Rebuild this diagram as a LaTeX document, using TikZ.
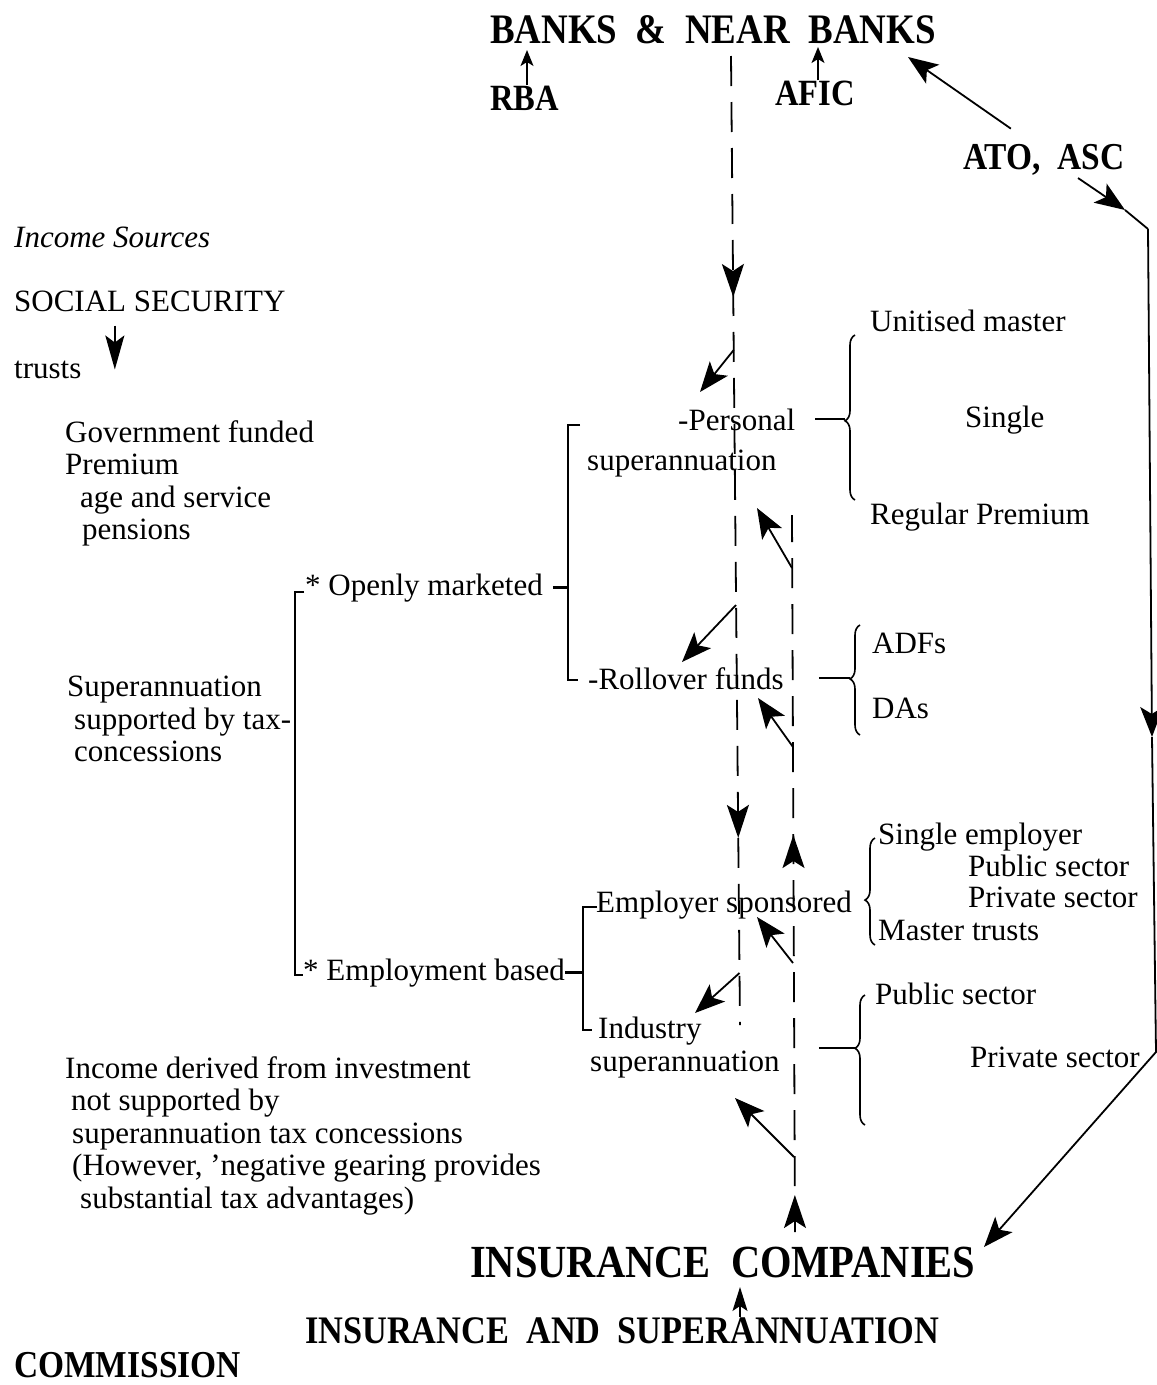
\documentclass[tikz,border=0pt]{standalone}
\usepackage{fontspec}
\setmainfont{Liberation Serif}
\newfontfamily\hdfont[FakeStretch=0.88]{Liberation Serif}
\usetikzlibrary{arrows.meta,decorations.pathreplacing,decorations.markings}

\begin{document}
\begin{tikzpicture}[x=1pt,y=-1pt,
    txt/.style={font=\fontsize{31}{32.5}\selectfont, inner sep=0pt, anchor=base west},
    para/.style={font=\fontsize{31}{32.5}\selectfont, inner sep=0pt, anchor=north west, align=left},
    hd/.style={font=\hdfont\bfseries\fontsize{#1}{#1}\selectfont, inner sep=0pt, anchor=base west},
    arr/.style={-{Stealth[length=30pt,width=23pt,inset=7pt]}, line width=1.8pt},
    sarr/.style={-{Stealth[length=16pt,width=13pt,inset=4pt]}, line width=1.4pt},
    dashline/.style={line width=1.8pt, dash pattern=on 30pt off 16pt},
    bracket/.style={line width=2.4pt},
    lnk/.style={line width=2pt},
    brc/.style={decorate, decoration={brace, amplitude=10pt, aspect=#1}, line width=1.6pt},
]
\useasboundingbox (0,0) rectangle (1157,1385);

% regulators and institutions
\node[hd=42] (banks) at (490,43) {BANKS\ \ \&\ \ NEAR\ \ BANKS};
\node[hd=37] (rba) at (490,110) {RBA};
\node[hd=37] (afic) at (775,105) {AFIC};
\node[hd=38] (ato) at (963,169) {ATO,\ \ ASC};
\node[hd=46] (insco) at (470,1277) {INSURANCE\ \ COMPANIES};
\node[hd=39] (isc) at (305,1343) {INSURANCE\ \ AND\ \ SUPERANNUATION};
\node[hd=38] (comm) at (14,1377) {COMMISSION};

% income sources (left)
\node[txt, font=\fontsize{31}{32.5}\selectfont\itshape] (inc) at (14,247) {Income Sources};
\node[txt] (soc) at (14,311) {SOCIAL SECURITY};
\node[txt] (trusts) at (14,378) {trusts};
\node[para] (gov) at (65,420) {Government funded\\Premium\\\hspace*{15pt}age and service\\\hspace*{17pt}pensions};
\node[para] (sup) at (67,676) {Superannuation\\\hspace*{7pt}supported by tax-\\\hspace*{7pt}concessions};
\node[para] (inv) at (65,1056) {Income derived from investment\\\hspace*{6pt}not supported by\\\hspace*{7pt}superannuation tax concessions\\\hspace*{7pt}(However, 'negative gearing provides\\\hspace*{15pt}substantial tax advantages)};

% superannuation types
\node[txt] (omk) at (305,595) {* Openly marketed};
\node[txt] (emp) at (303,980) {* Employment based};
\node[txt] (pers) at (678,430) {-Personal};
\node[txt] (persb) at (587,470) {superannuation};
\node[txt] (roll) at (588,689) {-Rollover funds};
\node[txt] (esp) at (596,912) {Employer sponsored};
\node[para] (ind) at (590,1017) {\hspace*{8pt}Industry\\superannuation};

% sub-types (right)
\node[txt] (um) at (870,331) {Unitised master};
\node[txt] (sg) at (965,427) {Single};
\node[txt] (rp) at (870,524) {Regular Premium};
\node[txt] (adf) at (872,653) {ADFs};
\node[txt] (da) at (872,718) {DAs};
\node[txt] (se) at (878,844) {Single employer};
\node[txt] (pub1) at (968,876) {Public sector};
\node[txt] (prv1) at (968,907) {Private sector};
\node[txt] (mt) at (878,940) {Master trusts};
\node[txt] (pub2) at (875,1004) {Public sector};
\node[txt] (prv2) at (970,1067) {Private sector};

% brackets
\coordinate (b1t) at (295,592);
\coordinate (b1b) at (295,975);
\draw[bracket] ([xshift=9pt]b1t) -- (b1t) -- (b1b) -- ([xshift=8pt]b1b);
\coordinate (b2t) at (568,425);
\coordinate (b2b) at (568,680);
\draw[bracket] ([xshift=12pt]b2t) -- (b2t) -- (b2b) -- ([xshift=10pt]b2b);
\draw[bracket] ([xshift=10pt]omk.east) -- (omk.east -| b2t);
\coordinate (b3t) at (583,907);
\coordinate (b3b) at (583,1030);
\draw[bracket] ([xshift=14pt]b3t) -- (b3t) -- (b3b) -- ([xshift=9pt]b3b);
\draw[bracket] (emp.east) -- (emp.east -| b3t);

% braces
\draw[brc=0.48] (855,500) -- (855,335);
\coordinate (br1) at (845,421);
\draw[lnk] ([xshift=20pt]pers.east) -- (pers.east -| br1);
\draw[brc=0.51] (860,735) -- (860,625);
\coordinate (br2) at (850,679);
\draw[lnk] ([xshift=35pt]roll.east) -- (roll.east -| br2);
\draw[brc=0.42] (875,945) -- (875,838);
\draw[brc=0.59] (865,1125) -- (865,995);
\coordinate (br4) at (855,1048);
\draw[lnk] ([xshift=39pt]ind.east) -- (ind.east -| br4);

% small arrows to the titles
\coordinate (rbaT) at (527,50);
\draw[sarr] (rba.north -| rbaT) -- (rbaT);
\coordinate (aficT) at (818,47);
\draw[sarr] (afic.north -| aficT) -- (aficT);
\coordinate (comT) at (740,1287);
\draw[sarr, -{Stealth[length=24pt,width=15pt,inset=5pt]}] (isc.north -| comT) -- (comT);
\draw[arr, -{Stealth[length=34pt,width=19pt,inset=7pt]}] ([xshift=-35pt,yshift=-14pt]soc.south) -- ([xshift=-35pt,yshift=-58pt]soc.south);

% ATO, ASC links
\coordinate (bankT) at (908,57);
\draw[arr] ([xshift=-33pt,yshift=15pt]ato.north) -- (bankT);
\coordinate (atoA) at (1078,178);
\coordinate (atoB) at (1125,210);
\coordinate (k1) at (1148,229);
\coordinate (k2) at (1152,737);
\coordinate (k3) at (1156,1052);
\coordinate (insT) at (984,1247);
\draw[arr] (atoA) -- (atoB);
\draw[line width=1.8pt] (atoB) -- (k1);
\draw[arr] (k1) -- (k2);
\draw[arr] (k2) -- (k3) -- (insT);

% flows of funds (dashed)
\coordinate (L0) at (731,56);
\coordinate (L1) at (740,1025);
\draw[dashline, postaction={decorate}, decoration={markings,
    mark=at position 241pt with {\arrow{Stealth[length=33pt,width=22pt,inset=7pt]}},
    mark=at position 782pt with {\arrow{Stealth[length=33pt,width=22pt,inset=7pt]}}}] (L0) -- (L1);
\coordinate (R0) at (795,1232);
\coordinate (R1) at (792,515);
\draw[dashline, postaction={decorate}, decoration={markings,
    mark=at position 37pt with {\arrow{Stealth[length=33pt,width=22pt,inset=7pt]}},
    mark=at position 397pt with {\arrow{Stealth[length=33pt,width=22pt,inset=7pt]}}}] (R0) -- (R1);

% branches off the flows
\coordinate (lb1) at (733.7,350);
\coordinate (lt1) at (700,392);
\coordinate (lb2) at (736,605);
\coordinate (lt2) at (682,662);
\coordinate (lb3) at (739.5,973);
\coordinate (lt3) at (695,1013);
\draw[arr] (lb1) -- (lt1);
\draw[arr] (lb2) -- (lt2);
\draw[arr] (lb3) -- (lt3);
\coordinate (rb1) at (792,568);
\coordinate (rt1) at (757,508);
\coordinate (rb2) at (793,747);
\coordinate (rt2) at (758,698);
\coordinate (rb3) at (793,963);
\coordinate (rt3) at (757,917);
\coordinate (rb4) at (794,1157);
\coordinate (rt4) at (735,1098);
\draw[arr] (rb1) -- (rt1);
\draw[arr] (rb2) -- (rt2);
\draw[arr] (rb3) -- (rt3);
\draw[arr] (rb4) -- (rt4);
\end{tikzpicture}
\end{document}
